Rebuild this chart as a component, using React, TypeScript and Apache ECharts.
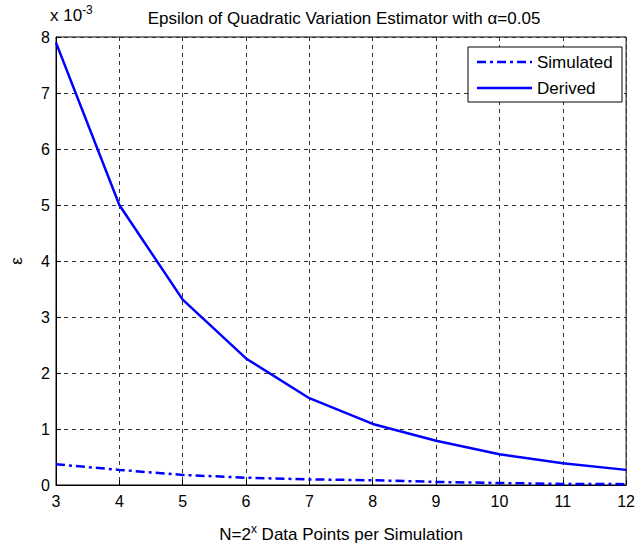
import React, { useEffect, useRef } from "react";
import * as echarts from "echarts";

// x = exponent (N = 2^x)
const xValues = [3, 4, 5, 6, 7, 8, 9, 10, 11, 12];
// epsilon values in units of 1e-3
const simulated = [0.37, 0.27, 0.18, 0.13, 0.1, 0.085, 0.055, 0.035, 0.02, 0.015];
const derived = [7.9, 5.0, 3.31, 2.26, 1.55, 1.09, 0.79, 0.55, 0.39, 0.27];
const seriesNames = ["Simulated", "Derived"];

const FONT = "'Liberation Sans', Arial, sans-serif";
const FS = 17;
const TICK_FS = 16;

export default function App() {
  const ref = useRef<HTMLDivElement>(null);
  useEffect(() => {
    if (!ref.current) return;
    const chart = echarts.init(ref.current, null, { renderer: "svg" });
    const blue = "#0000ff";
    const legendX = 468;
    const legendY = 47;
    chart.setOption({
      animation: false,
      backgroundColor: "#fff",
      textStyle: { fontFamily: FONT },
      grid: {
        left: 50,
        right: 8,
        top: 37,
        bottom: 55,
        show: true,
        borderColor: "#000",
        borderWidth: 1,
        backgroundColor: "transparent",
      },
      xAxis: {
        type: "value",
        min: 3,
        max: 12,
        interval: 1,
        name: "{n|N=2}{sup|x}{n| Data Points per Simulation}",
        nameLocation: "middle",
        nameGap: 38,
        nameTextStyle: {
          rich: {
            n: { fontSize: FS, fontFamily: FONT, color: "#000" },
            sup: { fontSize: 12, fontFamily: FONT, color: "#000", verticalAlign: "top", padding: [0, 0, 11, 0] },
          },
        },
        axisLine: { show: true, lineStyle: { color: "#000", width: 1 } },
        axisTick: { show: true, inside: true, length: 5, lineStyle: { color: "#000" } },
        axisLabel: { color: "#000", fontSize: TICK_FS, fontFamily: FONT, margin: 8 },
        splitLine: { show: true, lineStyle: { color: "#333", width: 1, type: [4, 4] } },
      },
      yAxis: {
        type: "value",
        min: 0,
        max: 8,
        interval: 1,
        name: "ε",
        nameLocation: "middle",
        nameRotate: 90,
        nameGap: 31,
        nameTextStyle: { fontSize: FS, color: "#000", fontFamily: FONT },
        axisLine: { show: true, lineStyle: { color: "#000", width: 1 } },
        axisTick: { show: true, inside: true, length: 5, lineStyle: { color: "#000" } },
        axisLabel: { color: "#000", fontSize: TICK_FS, fontFamily: FONT, margin: 6 },
        splitLine: { show: true, lineStyle: { color: "#333", width: 1, type: [4, 4] } },
      },
      title: {
        text: "Epsilon of Quadratic Variation Estimator with α=0.05",
        left: 339,
        textAlign: "center",
        top: 5,
        textStyle: { fontSize: FS, fontWeight: "normal", color: "#000", fontFamily: FONT },
      },
      series: [
        {
          name: seriesNames[0],
          type: "line",
          data: xValues.map((x, i) => [x, simulated[i]]),
          showSymbol: false,
          symbol: "none",
          lineStyle: { color: blue, width: 2.5, type: [9, 4, 3, 4] },
          z: 3,
        },
        {
          name: seriesNames[1],
          type: "line",
          data: xValues.map((x, i) => [x, derived[i]]),
          showSymbol: false,
          symbol: "none",
          lineStyle: { color: blue, width: 2.5, type: "solid" },
          z: 3,
        },
      ],
      graphic: [
        {
          type: "text",
          left: 50,
          top: 4,
          style: {
            text: "{n|x 10}{sup|-3}",
            rich: {
              n: { fontSize: FS, fontFamily: FONT, fill: "#000" },
              sup: { fontSize: 12, fontFamily: FONT, fill: "#000", verticalAlign: "top", padding: [0, 0, 11, 0] },
            },
          },
          z: 10,
        },
        {
          type: "rect",
          shape: { x: legendX, y: legendY, width: 154, height: 55 },
          style: { fill: "#fff", stroke: "#000", lineWidth: 1 },
          z: 10,
        },
        {
          type: "line",
          shape: { x1: legendX + 9, y1: legendY + 15, x2: legendX + 64, y2: legendY + 15 },
          style: { stroke: blue, lineWidth: 2.5, lineDash: [9, 4, 3, 4] },
          z: 11,
        },
        {
          type: "text",
          x: legendX + 69,
          y: legendY + 15,
          style: { text: seriesNames[0], fontSize: FS, fontFamily: FONT, fill: "#000", textVerticalAlign: "middle" },
          z: 11,
        },
        {
          type: "line",
          shape: { x1: legendX + 9, y1: legendY + 41, x2: legendX + 64, y2: legendY + 41 },
          style: { stroke: blue, lineWidth: 2.5 },
          z: 11,
        },
        {
          type: "text",
          x: legendX + 69,
          y: legendY + 41,
          style: { text: seriesNames[1], fontSize: FS, fontFamily: FONT, fill: "#000", textVerticalAlign: "middle" },
          z: 11,
        },
      ],
    });
    return () => chart.dispose();
  }, []);
  return <div ref={ref} style={{ width: 638, height: 548, position: "absolute", left: 0, top: 0 }} />;
}
